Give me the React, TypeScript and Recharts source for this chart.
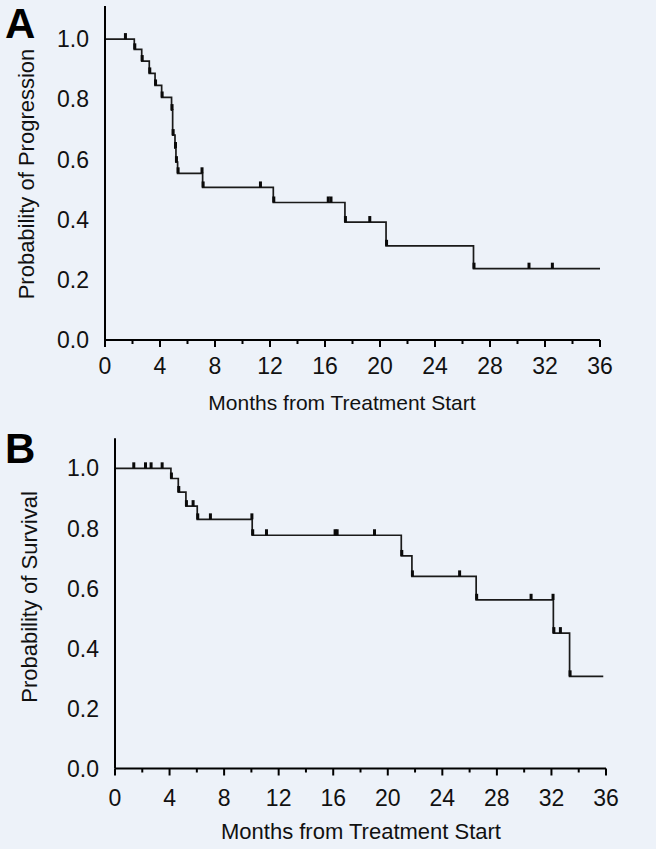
import React from 'react';
import { ComposedChart, Line, Scatter, XAxis, YAxis } from 'recharts';

// Panel A: progression (step times in months, probability after each step)
const stepTimesA = [0, 2.13, 2.67, 3.22, 3.64, 4.12, 4.84, 4.92, 5.09, 5.16, 5.28, 7.1, 12.24, 17.45, 20.44, 26.8, 36];
const stepProbA = [1.0, 0.966, 0.927, 0.886, 0.846, 0.806, 0.764, 0.681, 0.638, 0.591, 0.554, 0.507, 0.457, 0.392, 0.313, 0.237, 0.237];
const censorA = [1.45, 7.02, 11.27, 16.2, 16.4, 19.22, 30.8, 32.5];

// Panel B: survival
const stepTimesB = [0, 4.1, 4.64, 5.2, 6.03, 10.06, 20.99, 21.77, 26.48, 32.14, 33.33, 35.8];
const stepProbB = [1.0, 0.966, 0.921, 0.874, 0.83, 0.777, 0.708, 0.64, 0.562, 0.451, 0.307, 0.307];
const censorB = [1.34, 2.2, 2.61, 3.42, 5.69, 6.96, 10.0, 11.07, 16.1, 16.25, 18.99, 25.23, 30.47, 32.08, 32.62];

const monthTicks = [0, 2, 4, 6, 8, 10, 12, 14, 16, 18, 20, 22, 24, 26, 28, 30, 32, 34, 36];
const probTicks = [0, 0.2, 0.4, 0.6, 0.8, 1.0];

const FONT = '"Liberation Sans", Arial, Helvetica, sans-serif';
const INK = '#111';

function valueAt(times: number[], probs: number[], t: number) {
  let v = probs[0];
  for (let i = 0; i < times.length; i++) {
    if (times[i] <= t + 1e-9) v = probs[i];
  }
  return v;
}

function CensorMark(props: any) {
  const { cx, cy } = props;
  if (cx == null || cy == null) return null;
  return <rect x={cx - 1} y={cy - 6} width={3} height={6} fill="#0a0a0a" />;
}

function MonthTick(props: any) {
  const { x, y, payload, labelGap, fontSize } = props;
  const major = payload.value % 4 === 0;
  return (
    <g>
      <line x1={x} x2={x} y1={y} y2={y + (major ? 7 : 4)} stroke="#000" strokeWidth={2} />
      {major && (
        <text x={x} y={y + labelGap + fontSize * 0.72} textAnchor="middle" fontSize={fontSize} fill={INK} fontFamily={FONT}>
          {payload.value}
        </text>
      )}
    </g>
  );
}

type PanelProps = {
  letter: string;
  times: number[];
  probs: number[];
  censor: number[];
  yTitle: string;
  yMax: number;
  top: number;
  height: number;
  plotTop: number;
  plotLeft: number;
  plotRight: number;
  labelGap: number;
  xTitleX: number;
  xTitleBaseline: number;
  xTitleSize: number;
  yTitleX: number;
  yTitleY: number;
  letterTop: number;
};

function KMPanel(p: PanelProps) {
  const line = p.times.map((t, i) => ({ t, p: p.probs[i] }));
  const marks = [...p.censor, ...p.times.slice(1, -1)].map((t) => ({ t, p: valueAt(p.times, p.probs, t) }));
  const axisHeight = 80;
  return (
    <div style={{ position: 'absolute', left: 0, top: p.top, width: 656, height: p.height }}>
      <div
        style={{
          position: 'absolute',
          left: 5,
          top: p.letterTop,
          fontFamily: FONT,
          fontWeight: 'bold',
          fontSize: 42,
          lineHeight: 'normal',
          color: '#000',
          zIndex: 2,
        }}
      >
        {p.letter}
      </div>
      <ComposedChart
        width={656}
        height={p.height}
        margin={{ top: p.plotTop, right: 656 - p.plotRight, bottom: 0, left: 0 }}
      >
        <XAxis
          type="number"
          dataKey="t"
          domain={[0, 36]}
          ticks={monthTicks}
          interval={0}
          height={axisHeight}
          axisLine={{ stroke: '#000', strokeWidth: 2 }}
          tickLine={false}
          tickSize={0}
          tickMargin={0}
          tick={(tp: any) => <MonthTick {...tp} labelGap={p.labelGap} fontSize={23} />}
          label={{
            content: () => (
              <text
                x={p.xTitleX}
                y={p.xTitleBaseline - p.top}
                textAnchor="middle"
                fontSize={p.xTitleSize}
                fill={INK}
                fontFamily={FONT}
              >
                Months from Treatment Start
              </text>
            ),
          }}
        />
        <YAxis
          type="number"
          dataKey="p"
          domain={[0, p.yMax]}
          ticks={probTicks}
          interval={0}
          width={p.plotLeft}
          axisLine={{ stroke: '#000', strokeWidth: 2 }}
          tickLine={false}
          tickSize={0}
          tickMargin={16}
          tickFormatter={(v: number) => v.toFixed(1)}
          tick={{ fontSize: 23, fill: INK, fontFamily: FONT }}
          label={{
            content: () => (
              <text
                x={p.yTitleX}
                y={p.yTitleY - p.top}
                transform={`rotate(-90, ${p.yTitleX}, ${p.yTitleY - p.top})`}
                textAnchor="middle"
                fontSize={22}
                fill={INK}
                fontFamily={FONT}
              >
                {p.yTitle}
              </text>
            ),
          }}
        />
        <Line
          data={line}
          dataKey="p"
          type="stepAfter"
          stroke="#1a1a1a"
          strokeWidth={1.7}
          dot={false}
          activeDot={false}
          isAnimationActive={false}
        />
        <Scatter data={marks} dataKey="p" shape={CensorMark} isAnimationActive={false} />
      </ComposedChart>
    </div>
  );
}

export default function App() {
  return (
    <div
      style={{
        position: 'absolute',
        left: 0,
        top: 0,
        width: 656,
        height: 849,
        background: '#edf2f9',
        overflow: 'hidden',
      }}
    >
      <KMPanel
        letter="A"
        times={stepTimesA}
        probs={stepProbA}
        censor={censorA}
        yTitle="Probability of Progression"
        yMax={1.11}
        top={0}
        height={420}
        plotTop={6}
        plotLeft={105}
        plotRight={600}
        labelGap={17}
        xTitleX={342}
        xTitleBaseline={410}
        xTitleSize={21}
        yTitleX={34}
        yTitleY={174}
        letterTop={0}
      />
      <KMPanel
        letter="B"
        times={stepTimesB}
        probs={stepProbB}
        censor={censorB}
        yTitle="Probability of Survival"
        yMax={1.1}
        top={420}
        height={428.5}
        plotTop={18.3}
        plotLeft={115}
        plotRight={606}
        labelGap={21}
        xTitleX={361}
        xTitleBaseline={839}
        xTitleSize={22}
        yTitleX={37}
        yTitleY={597}
        letterTop={5}
      />
    </div>
  );
}
